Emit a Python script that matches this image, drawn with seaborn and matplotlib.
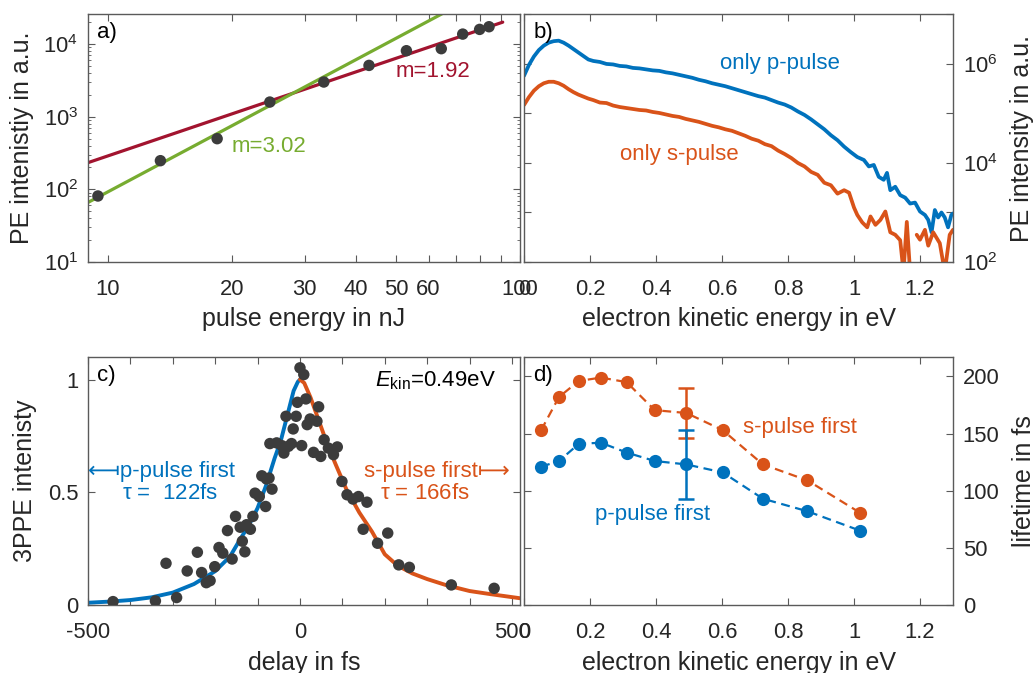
import numpy as np
import pandas as pd
import matplotlib
matplotlib.use("Agg")
import matplotlib.pyplot as plt
import matplotlib.ticker as mticker
import seaborn as sns

# ---------------- data ----------------
# panel a: power law
pulse_energy = [9.45, 13.4, 18.4, 24.7, 33.4, 43.0, 53.0, 64.4, 72.6, 79.8, 84.1]
pe_intensity = [81, 248, 498, 1590, 3000, 5080, 8090, 8630, 13700, 15900, 17300]
fit_red_x = [8.94, 90.8]
fit_red_y = [233, 20000]
fit_green_x = [8.94, 64.7]
fit_green_y = [66, 26100]

# panel b: spectra (log10 of PE intensity)
p_ekin = [0.000, 0.015, 0.030, 0.045, 0.060, 0.075, 0.090, 0.105, 0.120, 0.135,
          0.150, 0.165, 0.180, 0.195, 0.210, 0.230, 0.250, 0.270, 0.290, 0.310,
          0.330, 0.350, 0.370, 0.390, 0.410, 0.430, 0.450, 0.470, 0.490, 0.510,
          0.530, 0.550, 0.570, 0.590, 0.610, 0.630, 0.650, 0.670, 0.690, 0.710,
          0.730, 0.750, 0.770, 0.790, 0.810, 0.830, 0.850, 0.870, 0.890, 0.910,
          0.930, 0.950, 0.970, 0.990, 1.010, 1.030, 1.045, 1.060, 1.075, 1.090,
          1.100, 1.110, 1.125, 1.140, 1.155, 1.170, 1.185, 1.200, 1.215, 1.225,
          1.235, 1.245, 1.255, 1.265, 1.275, 1.285, 1.295, 1.300]
p_log = [5.76, 5.98, 6.15, 6.28, 6.37, 6.43, 6.46, 6.47, 6.43, 6.37,
         6.30, 6.23, 6.16, 6.09, 6.06, 6.04, 6.00, 5.99, 5.96, 5.95,
         5.92, 5.91, 5.89, 5.87, 5.86, 5.83, 5.81, 5.78, 5.75, 5.72,
         5.68, 5.65, 5.61, 5.58, 5.55, 5.51, 5.47, 5.43, 5.39, 5.35,
         5.32, 5.27, 5.22, 5.18, 5.12, 5.04, 4.97, 4.88, 4.78, 4.68,
         4.56, 4.46, 4.33, 4.22, 4.12, 4.06, 3.93, 3.96, 3.72, 3.66,
         3.80, 3.45, 3.52, 3.35, 3.30, 3.18, 3.20, 3.02, 2.95, 2.85,
         2.60, 3.05, 2.90, 3.00, 2.90, 2.70, 2.95, 2.98]
s_ekin = [0.000, 0.015, 0.030, 0.045, 0.060, 0.075, 0.090, 0.105, 0.120, 0.135,
          0.150, 0.165, 0.180, 0.195, 0.210, 0.230, 0.250, 0.270, 0.290, 0.310,
          0.330, 0.350, 0.370, 0.390, 0.410, 0.430, 0.450, 0.470, 0.490, 0.510,
          0.530, 0.550, 0.570, 0.590, 0.610, 0.630, 0.650, 0.670, 0.690, 0.710,
          0.730, 0.750, 0.770, 0.790, 0.810, 0.830, 0.850, 0.870, 0.890, 0.910,
          0.930, 0.950, 0.970, 0.985, 1.000, 1.010, 1.025, 1.040, 1.050, 1.065,
          1.080, 1.095, 1.110, 1.125, 1.140, 1.150, 1.160, 1.170]
s_log = [5.17, 5.33, 5.46, 5.55, 5.61, 5.64, 5.64, 5.61, 5.56, 5.49,
         5.43, 5.38, 5.34, 5.30, 5.27, 5.22, 5.21, 5.16, 5.13, 5.11,
         5.09, 5.07, 5.06, 5.03, 5.01, 4.98, 4.95, 4.93, 4.89, 4.86,
         4.83, 4.79, 4.75, 4.72, 4.68, 4.65, 4.60, 4.55, 4.49, 4.45,
         4.38, 4.34, 4.25, 4.18, 4.10, 4.00, 3.93, 3.82, 3.76, 3.60,
         3.55, 3.38, 3.45, 3.40, 3.10, 2.95, 2.80, 2.70, 2.92, 2.75,
         2.85, 3.02, 2.60, 2.55, 2.44, 1.80, 2.81, 1.80]
s_ekin_tail = [1.190, 1.200, 1.215, 1.225, 1.240, 1.260, 1.275, 1.290, 1.300]
s_log_tail = [2.55, 2.45, 2.65, 2.33, 2.60, 2.38, 1.80, 2.55, 2.65]

# panel c: cross correlation
delay = [-441, -341, -316, -291, -266, -242, -232, -221, -212, -201,
         -191, -182, -171, -160, -152, -141, -136, -130, -126, -117,
         -111, -106, -96, -90, -81, -79, -73, -66, -71, -55,
         -43, -38, -33, -27, -20, -16, -9, -6, 0, 9,
         4, 14, 17, 24, 32, 40, 44, 49, 57, 67,
         79, 88, 99, 111, 125, 138, 158, 149, 183, 207,
         233, 258, 357, 458]
signal = [0.015, 0.018, 0.185, 0.033, 0.151, 0.234, 0.144, 0.099, 0.108, 0.170,
          0.255, 0.230, 0.330, 0.204, 0.393, 0.345, 0.283, 0.236, 0.356, 0.336,
          0.393, 0.496, 0.481, 0.573, 0.437, 0.559, 0.563, 0.514, 0.716, 0.719,
          0.707, 0.674, 0.837, 0.704, 0.716, 0.781, 0.837, 0.899, 1.052, 1.022,
          0.707, 0.914, 0.800, 0.825, 0.677, 0.815, 0.879, 0.659, 0.733, 0.696,
          0.667, 0.701, 0.548, 0.489, 0.470, 0.481, 0.456, 0.336, 0.274, 0.319,
          0.178, 0.167, 0.089, 0.074]
fit_p_t = [-500, -450, -400, -350, -300, -250, -200, -165, -140, -120,
           -100, -80, -60, -45, -30, -15, -5, 0]
fit_p_v = [0.010, 0.015, 0.022, 0.034, 0.055, 0.093, 0.150, 0.215, 0.295, 0.355,
           0.430, 0.530, 0.650, 0.730, 0.840, 0.950, 0.990, 1.000]
fit_s_t = [0, 10, 25, 45, 65, 85, 110, 140, 170, 200, 230, 265, 300, 345, 400, 450, 519]
fit_s_v = [1.000, 0.985, 0.920, 0.815, 0.710, 0.620, 0.511, 0.410, 0.325, 0.225,
           0.175, 0.140, 0.115, 0.088, 0.062, 0.048, 0.030]

# panel d: lifetimes
d_ekin = [0.052, 0.106, 0.166, 0.233, 0.311, 0.396, 0.492, 0.602, 0.724, 0.859, 1.019]
tau_s_first = [153, 182, 196, 199, 195, 170.5, 168, 153, 123, 109, 80.6]
tau_p_first = [121, 126, 141, 142, 133.4, 126, 123, 116, 93, 82, 65]
err_x = 0.492
err_s = 22.3
err_p = 30

# ---------------- style ----------------
sns.set_style("ticks")
plt.rcParams["font.family"] = ["Liberation Sans", "DejaVu Sans"]
plt.rcParams["mathtext.fontset"] = "custom"
plt.rcParams["mathtext.rm"] = "Liberation Sans"
plt.rcParams["mathtext.it"] = "Liberation Sans:italic"
plt.rcParams["mathtext.default"] = "regular"

BLUE = "#0072BD"
ORANGE = "#D95319"
GREEN = "#77AC30"
RED = "#A2142F"
DOT = "#3c3c3c"
SPINE = "#5a5a5a"
TXT = "#262626"
TICK_FS = 15.8
LAB_FS = 18
ANN_FS = 16

fig = plt.figure(figsize=(10.36, 6.73), dpi=100)
W, H = 1036, 673


def box(l, r, t, b):
    return [l / W, 1 - b / H, (r - l) / W, (b - t) / H]


axA = fig.add_axes(box(88, 520, 14, 262))
axB = fig.add_axes(box(524, 953, 14, 262))
axC = fig.add_axes(box(88, 520, 357, 605))
axD = fig.add_axes(box(524, 953, 357, 605))


def style(ax, right=False):
    ax.tick_params(which="both", direction="in", top=True, right=True, left=True,
                   bottom=True, color=SPINE, labelcolor=TXT, labelsize=TICK_FS)
    ax.tick_params(which="major", length=5, width=0.8, pad=7)
    ax.tick_params(axis="x", which="major", pad=12)
    ax.tick_params(which="minor", length=2.5, width=0.6)
    if right:
        ax.tick_params(labelleft=False, labelright=True)
        ax.yaxis.set_label_position("right")
    for s in ax.spines.values():
        s.set_visible(True)
        s.set_color(SPINE)
        s.set_linewidth(1.0)


# ---------------- panel a ----------------
axA.set_xscale("log")
axA.set_yscale("log")
sns.lineplot(x=fit_red_x, y=fit_red_y, ax=axA, color=RED, linewidth=2.3, zorder=2)
sns.lineplot(x=fit_green_x, y=fit_green_y, ax=axA, color=GREEN, linewidth=2.3, zorder=2)
sns.scatterplot(x=pulse_energy, y=pe_intensity, ax=axA, color=DOT, s=68,
                edgecolor="none", linewidth=0, zorder=3)
axA.set_xlim(8.94, 100)
axA.set_ylim(10, 25900)
xt = [10, 20, 30, 40, 50, 60, 70, 80, 90, 100]
axA.set_xticks(xt, labels=["10", "20", "30", "40", "50", "60", "", "", "", "100"])
axA.xaxis.set_minor_locator(mticker.NullLocator())
axA.set_yticks([10, 100, 1000, 10000],
               labels=["$10^{1}$", "$10^{2}$", "$10^{3}$", "$10^{4}$"])
axA.yaxis.set_minor_locator(mticker.LogLocator(base=10, subs=np.arange(2, 10)))
axA.yaxis.set_minor_formatter(mticker.NullFormatter())
style(axA)
axA.set_xlabel("pulse energy in nJ", fontsize=LAB_FS, color=TXT)
axA.set_ylabel("PE intenistiy in a.u.", fontsize=LAB_FS, color=TXT)
axA.xaxis.set_label_coords(0.5, -0.18)
axA.yaxis.set_label_coords(-0.125, 0.5)
axA.text(0.02, 0.925, "a)", transform=axA.transAxes, fontsize=ANN_FS, color="black",
         va="center", ha="left")
axA.text(49.8, 4200, "m=1.92", color=RED, fontsize=ANN_FS, va="center", ha="left")
axA.text(20.0, 386, "m=3.02", color=GREEN, fontsize=ANN_FS, va="center", ha="left")

# ---------------- panel b ----------------
axB.set_yscale("log")
sns.lineplot(x=p_ekin, y=10 ** np.array(p_log), ax=axB, color=BLUE, linewidth=2.7)
sns.lineplot(x=s_ekin, y=10 ** np.array(s_log), ax=axB, color=ORANGE, linewidth=2.7)
sns.lineplot(x=s_ekin_tail, y=10 ** np.array(s_log_tail), ax=axB, color=ORANGE,
             linewidth=2.7)
axB.set_xlim(0, 1.3)
axB.set_ylim(1e2, 1.02e7)
ek_ticks = [0, 0.2, 0.4, 0.6, 0.8, 1.0, 1.2]
ek_labels = ["0", "0.2", "0.4", "0.6", "0.8", "1", "1.2"]
axB.set_xticks(ek_ticks, labels=ek_labels)
axB.set_yticks([1e2, 1e3, 1e4, 1e5, 1e6, 1e7],
               labels=["$10^{2}$", "", "$10^{4}$", "", "$10^{6}$", ""])
axB.yaxis.set_minor_locator(mticker.LogLocator(base=10, subs=np.arange(2, 10)))
axB.yaxis.set_minor_formatter(mticker.NullFormatter())
style(axB, right=True)
axB.set_xlabel("electron kinetic energy in eV", fontsize=LAB_FS, color=TXT)
axB.set_ylabel("PE intensity in a.u.", fontsize=LAB_FS, color=TXT)
axB.xaxis.set_label_coords(0.5, -0.18)
axB.yaxis.set_label_coords(1.133, 0.5)
axB.text(0.022, 0.925, "b)", transform=axB.transAxes, fontsize=ANN_FS, color="black",
         va="center", ha="left")
axB.text(0.594, 1.0e6, "only p-pulse", color=BLUE, fontsize=ANN_FS, va="center", ha="left")
axB.text(0.291, 1.45e4, "only s-pulse", color=ORANGE, fontsize=ANN_FS, va="center", ha="left")

# ---------------- panel c ----------------
sns.lineplot(x=fit_p_t, y=fit_p_v, ax=axC, color=BLUE, linewidth=2.8, zorder=2)
sns.lineplot(x=fit_s_t, y=fit_s_v, ax=axC, color=ORANGE, linewidth=2.8, zorder=2)
sns.scatterplot(x=delay, y=signal, ax=axC, color=DOT, s=68, edgecolor="none",
                linewidth=0, zorder=3)
axC.set_xlim(-500, 519)
axC.set_ylim(0, 1.10)
ct = list(range(-500, 501, 100))
axC.set_xticks(ct, labels=["-500" if v == -500 else "0" if v == 0 else "500" if v == 500 else ""
                           for v in ct])
axC.set_yticks([0, 0.5, 1.0], labels=["0", "0.5", "1"])
style(axC)
axC.set_xlabel("delay in fs", fontsize=LAB_FS, color=TXT)
axC.set_ylabel("3PPE intenisty", fontsize=LAB_FS, color=TXT)
axC.xaxis.set_label_coords(0.5, -0.185)
axC.yaxis.set_label_coords(-0.118, 0.5)
axC.text(0.02, 0.925, "c)", transform=axC.transAxes, fontsize=ANN_FS, color="black",
         va="center", ha="left")
axC.text(0.945, 0.905, r"$\mathit{E}_{\mathrm{kin}}$=0.49eV", transform=axC.transAxes,
         fontsize=ANN_FS, color="black", va="center", ha="right")
fam = ["Liberation Sans", "DejaVu Sans"]
axC.text(-500, 0.59, "\u27fbp-pulse first", color=BLUE, fontsize=ANN_FS,
         va="center", ha="left", family=fam)
axC.text(-420, 0.495, r"$\tau$ =  122fs", color=BLUE, fontsize=ANN_FS,
         va="center", ha="left")
axC.text(496, 0.59, "s-pulse first\u27fc", color=ORANGE, fontsize=ANN_FS,
         va="center", ha="right", family=fam)
axC.text(295, 0.495, r"$\tau$ = 166fs", color=ORANGE, fontsize=ANN_FS,
         va="center", ha="center")

# ---------------- panel d ----------------
sns.lineplot(x=d_ekin, y=tau_s_first, ax=axD, color=ORANGE, linewidth=1.6,
             linestyle=(0, (4, 2.5)), marker="o", markersize=9.5, markeredgewidth=0)
sns.lineplot(x=d_ekin, y=tau_p_first, ax=axD, color=BLUE, linewidth=1.6,
             linestyle=(0, (4, 2.5)), marker="o", markersize=9.5, markeredgewidth=0)
axD.errorbar([err_x], [tau_s_first[6]], yerr=[err_s], fmt="none", ecolor=ORANGE,
             elinewidth=1.8, capsize=5.5, capthick=1.8)
axD.errorbar([err_x], [tau_p_first[6]], yerr=[err_p], fmt="none", ecolor=BLUE,
             elinewidth=1.8, capsize=5.5, capthick=1.8)
axD.set_xlim(0, 1.3)
axD.set_ylim(0, 217)
axD.set_xticks(ek_ticks, labels=ek_labels)
axD.set_yticks([0, 50, 100, 150, 200], labels=["0", "50", "100", "150", "200"])
style(axD, right=True)
axD.set_xlabel("electron kinetic energy in eV", fontsize=LAB_FS, color=TXT)
axD.set_ylabel("lifetime in fs", fontsize=LAB_FS, color=TXT)
axD.xaxis.set_label_coords(0.5, -0.185)
axD.yaxis.set_label_coords(1.1375, 0.5)
axD.text(0.022, 0.925, "d)", transform=axD.transAxes, fontsize=ANN_FS, color="black",
         va="center", ha="left")
axD.text(0.664, 155, "s-pulse first", color=ORANGE, fontsize=ANN_FS, va="center", ha="left")
axD.text(0.215, 79, "p-pulse first", color=BLUE, fontsize=ANN_FS, va="center", ha="left")

fig.savefig("out.png", dpi=100)
